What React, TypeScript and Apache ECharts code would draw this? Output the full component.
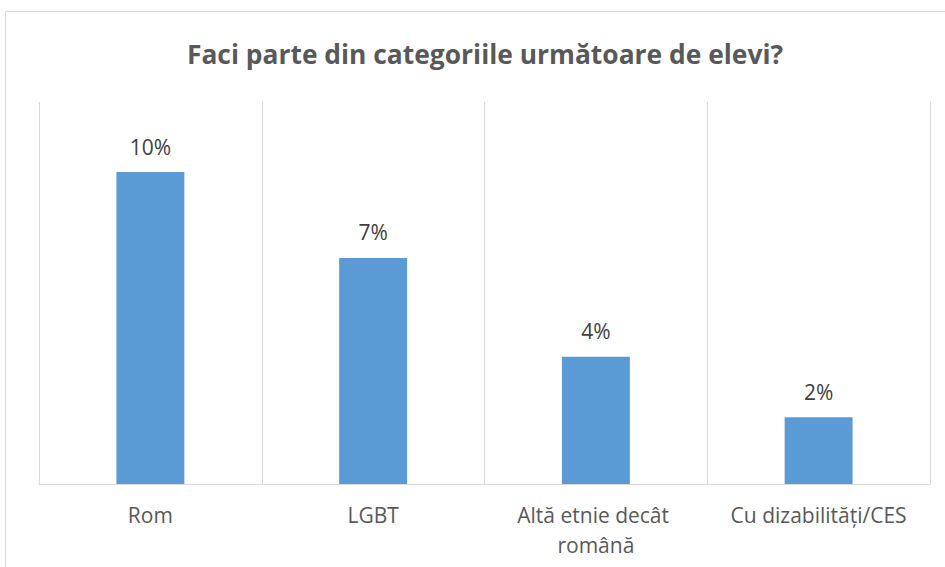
import React, { useEffect, useRef } from "react";
import * as echarts from "echarts";

const categories = ["Rom", "LGBT", "Altă etnie decât română", "Cu dizabilități/CES"];
const values = [0.098, 0.071, 0.040, 0.021];
const titleText = "Faci parte din categoriile următoare de elevi?";

export default function App() {
  const ref = useRef<HTMLDivElement>(null);
  useEffect(() => {
    if (!ref.current) return;
    const chart = echarts.init(ref.current, null, { renderer: "svg" });
    chart.setOption({
      animation: false,
      backgroundColor: "#ffffff",
      title: {
        text: titleText,
        left: 480,
        textAlign: "center",
        top: 36,
        textStyle: { fontFamily: "Open Sans", fontSize: 26.4, fontWeight: "bold", color: "#595959" },
      },
      graphic: [
        {
          type: "rect",
          shape: { x: 5.5, y: 11.5, width: 960, height: 600 },
          style: { fill: "none", stroke: "#d9d9d9", lineWidth: 1 },
          silent: true,
        },
      ],
      grid: { left: 39, right: 15, top: 102, bottom: 83 },
      xAxis: {
        type: "category",
        data: categories,
        axisLine: { lineStyle: { color: "#d9d9d9", width: 1 } },
        axisTick: { show: false },
        splitLine: { show: true, lineStyle: { color: "#d9d9d9", width: 1 } },
        axisLabel: {
          fontFamily: "Open Sans",
          fontSize: 21,
          color: "#595959",
          margin: 16,
          lineHeight: 30,
          width: 200,
          overflow: "break",
          interval: 0,
        },
      },
      yAxis: {
        type: "value",
        min: 0,
        max: 0.12,
        show: false,
        splitLine: { show: false },
      },
      series: [
        {
          type: "bar",
          data: values,
          barWidth: "30.5%",
          itemStyle: { color: "#5b9bd5" },
          label: {
            show: true,
            position: "top",
            distance: 15,
            fontFamily: "Open Sans",
            fontSize: 21,
            color: "#404040",
            formatter: (p: any) => Math.round(p.value * 100) + "%",
          },
        },
      ],
    });
    return () => chart.dispose();
  }, []);
  return <div ref={ref} style={{ position: "fixed", left: 0, top: 0, width: 945, height: 567 }} />;
}
